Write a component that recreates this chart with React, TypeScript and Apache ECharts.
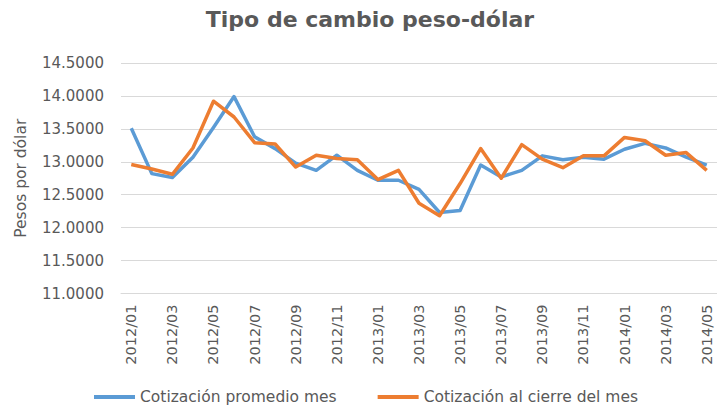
import React, { useEffect, useRef } from "react";
import * as echarts from "echarts";

const months: string[] = [
  "2012/01", "2012/02", "2012/03", "2012/04", "2012/05", "2012/06", "2012/07", "2012/08", "2012/09", "2012/10", "2012/11", "2012/12",
  "2013/01", "2013/02", "2013/03", "2013/04", "2013/05", "2013/06", "2013/07", "2013/08", "2013/09", "2013/10", "2013/11", "2013/12",
  "2014/01", "2014/02", "2014/03", "2014/04", "2014/05",
];

const promedio: number[] = [
  13.51, 12.82, 12.76, 13.07, 13.52, 13.99, 13.38, 13.2, 12.98, 12.87, 13.1, 12.87,
  12.72, 12.72, 12.58, 12.23, 12.26, 12.95, 12.77, 12.87, 13.09, 13.03, 13.07, 13.04,
  13.19, 13.28, 13.21, 13.07, 12.95,
];

const cierre: number[] = [
  12.96, 12.89, 12.81, 13.21, 13.92, 13.68, 13.29, 13.27, 12.92, 13.1, 13.05, 13.03,
  12.73, 12.87, 12.37, 12.18, 12.67, 13.2, 12.75, 13.26, 13.04, 12.91, 13.09, 13.09,
  13.37, 13.32, 13.1, 13.14, 12.87,
];

const seriesNames: string[] = ["Cotización promedio mes", "Cotización al cierre del mes"];

const FONT = "'DejaVu Sans', sans-serif";
const TEXT = "#595959";

export default function App() {
  const ref = useRef<HTMLDivElement>(null);
  useEffect(() => {
    if (!ref.current) return;
    const chart = echarts.init(ref.current, null, { renderer: "svg" });
    chart.setOption({
      animation: false,
      backgroundColor: "#ffffff",
      textStyle: { fontFamily: FONT },
      title: {
        text: "Tipo de cambio peso-dólar",
        left: 370,
        textAlign: "center",
        top: 8,
        padding: 0,
        textStyle: { fontFamily: FONT, fontSize: 22, fontWeight: "bold", color: TEXT },
      },
      grid: { left: 121, top: 63, width: 600, height: 230.5, containLabel: false },
      legend: {
        left: 94,
        top: 389,
        padding: 0,
        itemWidth: 41,
        itemHeight: 4,
        itemGap: 41,
        icon: "rect",
        textStyle: { fontFamily: FONT, fontSize: 15.5, color: TEXT },
        data: seriesNames,
      },
      xAxis: {
        type: "category",
        data: months,
        boundaryGap: true,
        axisTick: { show: false },
        axisLine: { lineStyle: { color: "#D9D9D9", width: 1 } },
        axisLabel: {
          interval: 1,
          rotate: 90,
          margin: 11,
          fontSize: 14.5,
          color: TEXT,
          fontFamily: FONT,
        },
      },
      yAxis: {
        type: "value",
        min: 11,
        max: 14.5,
        interval: 0.5,
        name: "Pesos por dólar",
        nameLocation: "middle",
        nameRotate: 90,
        nameGap: 92,
        nameTextStyle: { fontFamily: FONT, fontSize: 15.5, color: TEXT },
        axisLine: { show: false },
        axisTick: { show: false },
        splitLine: { lineStyle: { color: "#D9D9D9", width: 1 } },
        axisLabel: {
          margin: 17,
          fontSize: 15,
          color: TEXT,
          fontFamily: FONT,
          formatter: (v: number) => v.toFixed(4),
        },
      },
      series: [
        {
          name: seriesNames[0],
          type: "line",
          data: promedio,
          symbol: "none",
          lineStyle: { color: "#5B9BD5", width: 3.5, join: "round" },
          itemStyle: { color: "#5B9BD5" },
        },
        {
          name: seriesNames[1],
          type: "line",
          data: cierre,
          symbol: "none",
          lineStyle: { color: "#ED7D31", width: 3.5, join: "round" },
          itemStyle: { color: "#ED7D31" },
        },
      ],
    });
    return () => chart.dispose();
  }, []);
  return <div ref={ref} style={{ position: "absolute", left: 0, top: 0, width: 717, height: 406 }} />;
}
